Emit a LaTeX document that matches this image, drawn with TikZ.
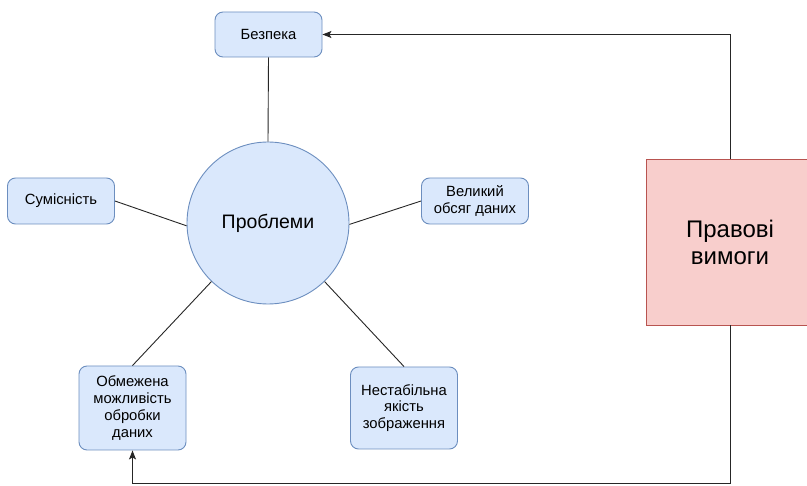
\documentclass[tikz,border=0pt]{standalone}
\usepackage{fontspec}
\setmainfont{Liberation Sans}
\usetikzlibrary{arrows.meta}
\definecolor{bfill}{HTML}{DAE8FC}
\definecolor{bline}{HTML}{6C8EBF}
\definecolor{rfill}{HTML}{F8CECC}
\definecolor{rline}{HTML}{B85450}
\tikzset{
  bbox/.style={draw=bline, fill=bfill, rounded corners=8pt, line width=0.9pt,
    minimum width=107pt, align=center, inner sep=2pt,
    font=\fontsize{14.8}{16.8}\selectfont},
  conn/.style={draw=black!85, line width=0.9pt},
  arr/.style={conn, -{Stealth[length=9pt,width=7pt,inset=2pt]}},
}
\begin{document}
\begin{tikzpicture}[x=1pt,y=-1pt]
\useasboundingbox (0,0) rectangle (807,486);
\clip (0,0) rectangle (807,486);
\node[bbox, minimum height=45pt] (bez) at (268.5,34.5) {Безпека};
\node[bbox, minimum height=46pt] (sum) at (61,201) {Сумісність};
\node[bbox, minimum height=46pt] (vel) at (475,201) {Великий\\обсяг даних};
\node[bbox, minimum height=84pt] (obm) at (132.5,408) {Обмежена\\можливість\\обробки\\даних};
\node[bbox, minimum height=82pt] (nes) at (404,408) {Нестабільна\\якість\\зображення};
\node[circle, draw=bline, fill=bfill, line width=0.9pt, minimum size=162pt, inner sep=0pt,
  font=\fontsize{19.5}{23}\selectfont] (c) at (268,223) {Проблеми};
\node[draw=rline, fill=rfill, line width=0.9pt, minimum width=168pt, minimum height=166pt,
  align=center, font=\fontsize{24}{27}\selectfont] (law) at (730,242) {Правові\\вимоги};
\coordinate (tr) at (730,34.5);
\coordinate (br) at (730,483);
\coordinate (bl) at (132.5,483);
\draw[conn] (bez.south) -- (c.north);
\draw[conn] (sum.east) -- (c.182);
\draw[conn] (vel.west) -- (c.359);
\draw[conn] (obm.north) -- (c.226);
\draw[conn] (nes.north) -- (c.314);
\draw[arr] (law.north) -- (tr) -- (bez.east);
\draw[arr] (law.south) -- (br) -- (bl) -- (obm.south);
\end{tikzpicture}
\end{document}
